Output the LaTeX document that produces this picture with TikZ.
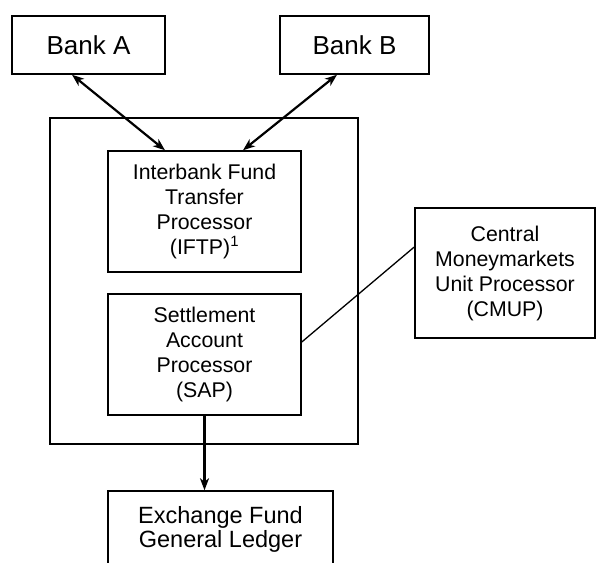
\documentclass[tikz,border=0pt]{standalone}
\usepackage{fontspec}
\setmainfont{Liberation Sans}
\usetikzlibrary{arrows.meta}
\begin{document}
\begin{tikzpicture}[x=1pt,y=-1pt,
  box/.style={draw, line width=1.5pt, inner sep=0pt, align=center,
    font=\fontsize{21.3}{25}\selectfont},
  twoway/.style={line width=2.2pt, {Stealth[length=12pt,width=9pt,inset=3.5pt]}-{Stealth[length=12pt,width=9pt,inset=3.5pt]}},
  oneway/.style={line width=2.2pt, -{Stealth[length=12pt,width=9pt,inset=3.5pt]}},
  plain/.style={line width=1.3pt}
]
\clip (0,0) rectangle (596,562);
\node[box, minimum width=153pt, minimum height=58pt, font=\fontsize{26}{30}\selectfont] (bankA) at (88.5,45) {Bank A};
\node[box, minimum width=149pt, minimum height=58pt, font=\fontsize{26}{30}\selectfont] (bankB) at (354.5,45) {Bank B};
\node[draw, line width=1.5pt, inner sep=0pt, minimum width=308pt, minimum height=326pt] (outer) at (204,281) {};
\node[box, minimum width=193pt, minimum height=121pt] (iftp) at (204.5,211.5) {Interbank Fund\\Transfer\\Processor\\(IFTP)\textsuperscript{1}};
\node[box, minimum width=193pt, minimum height=121pt] (sap) at (204.5,354.5) {Settlement\\Account\\Processor\\(SAP)};
\node[box, minimum width=180pt, minimum height=130pt] (cmup) at (505,273) {Central\\Moneymarkets\\Unit Processor\\(CMUP)};
\node[box, minimum width=225pt, minimum height=76pt, font=\fontsize{23.5}{24}\selectfont] (ledger) at (220.5,529) {Exchange Fund\\General Ledger};
\draw[twoway] ([xshift=-16.5pt]bankA.south) -- ([xshift=-39.5pt]iftp.north);
\draw[twoway] ([xshift=-17.5pt]bankB.south) -- ([xshift=38.5pt]iftp.north);
\draw[plain] ([yshift=12.5pt]sap.east) -- ([yshift=26pt]cmup.west);
\draw[oneway] (sap.south) -- (sap.south |- ledger.north);
\end{tikzpicture}
\end{document}
